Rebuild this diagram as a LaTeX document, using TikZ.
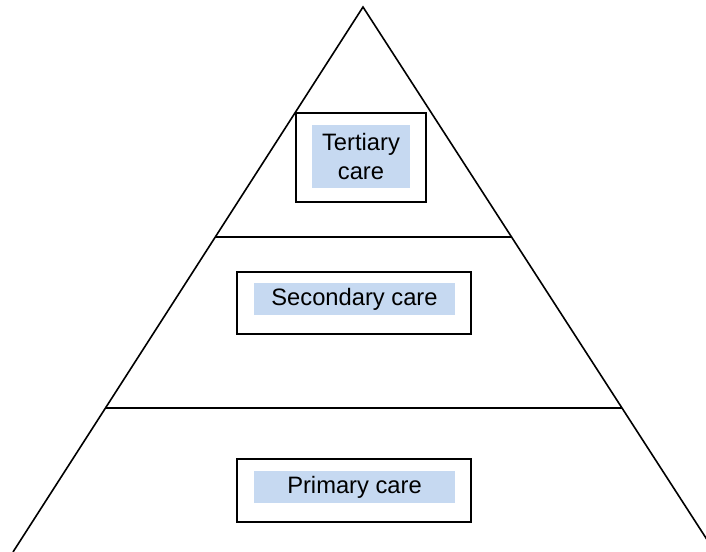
\documentclass[tikz,border=0pt]{standalone}
\usepackage{fontspec}
\setmainfont{Liberation Sans}
\usepackage{tikz}
\usetikzlibrary{calc}
\definecolor{carefill}{HTML}{C6D9F1}

\begin{document}
\begin{tikzpicture}[x=0.75pt, y=-0.75pt,
    tierline/.style={draw=black, line width=1.2pt},
    carebox/.style={draw=black, line width=1.4pt, inner sep=0pt},
    caretext/.style={fill=carefill, inner sep=0pt, align=center,
                     font=\fontsize{17.8}{21.8}\selectfont}
]
    \useasboundingbox (0,0) rectangle (706,552);
    \clip (0,0) rectangle (706,552);

    % pyramid outline
    \coordinate (apex) at (363,7);
    \coordinate (baseL) at (13,552);
    \coordinate (baseR) at (715,552);
    \draw[tierline] (baseL) -- (apex) -- (baseR);

    % tier borders
    \coordinate (upperL) at ($(apex)!0.4220!(baseL)$);
    \coordinate (upperR) at ($(apex)!0.4220!(baseR)$);
    \coordinate (lowerL) at ($(apex)!0.7358!(baseL)$);
    \coordinate (lowerR) at ($(apex)!0.7358!(baseR)$);
    \draw[tierline] (upperL) -- (upperR);
    \draw[tierline] (lowerL) -- (lowerR);

    \node[carebox, minimum width=97.5pt, minimum height=66.75pt] (tertiarybox) at (361,157.5) {};
    \node[caretext, minimum width=73.5pt, minimum height=47.25pt] (tertiary) at (361,156.5) {Tertiary\\care};

    \node[carebox, minimum width=175.5pt, minimum height=46.5pt] (secondarybox) at (354,303) {};
    \node[caretext, minimum width=150.75pt, minimum height=24pt] (secondary) at (354.5,299) {Secondary care};

    \node[carebox, minimum width=175.5pt, minimum height=47.25pt] (primarybox) at (354,490.5) {};
    \node[caretext, minimum width=150.75pt, minimum height=24pt] (primary) at (354.5,487) {Primary care};
\end{tikzpicture}
\end{document}
